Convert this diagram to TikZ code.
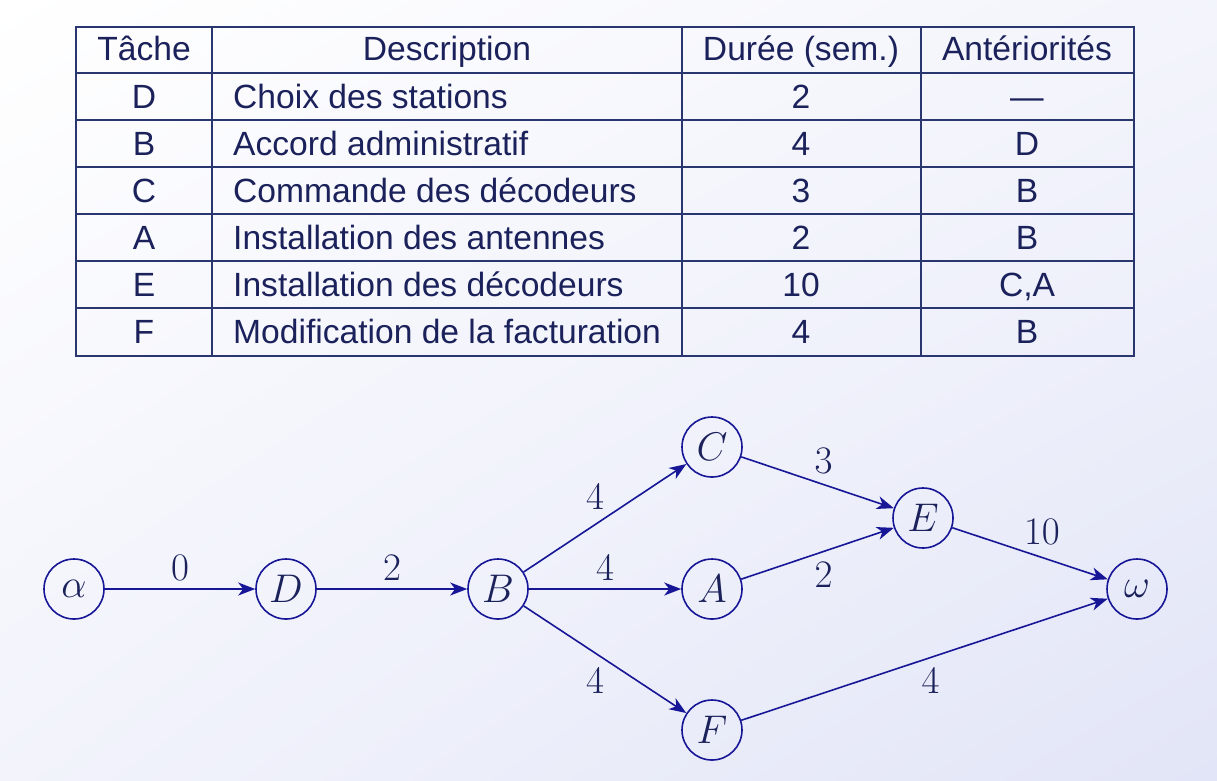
\RequirePackage{fix-cm}
\documentclass[tikz,border=0pt]{standalone}
\usepackage[no-math]{fontspec}
\setmainfont{Liberation Sans}
\usetikzlibrary{arrows.meta,shadings}
\definecolor{marine}{RGB}{27,33,90}
\definecolor{trait}{RGB}{42,54,112}
\definecolor{bleu}{RGB}{22,22,150}
\definecolor{lavande}{RGB}{226,229,247}
\tikzset{
  cellule/.style={text=marine,inner sep=0pt,font=\fontsize{33.6}{40}\selectfont},
  etat/.style={circle,draw=bleu,line width=1.6pt,minimum size=60pt,inner sep=0pt,
    text=marine,font=\fontsize{40}{48}\selectfont},
  fleche/.style={bleu,line width=1.6pt,-{Stealth[length=17pt,width=13pt,inset=5pt]}},
  poids/.style={text=marine,inner sep=8pt,font=\fontsize{39}{46}\selectfont}
}
\begin{document}
\begin{tikzpicture}[x=1pt,y=-1pt]
    \useasboundingbox (0,0) rectangle (1217,780);
    \shade[upper left=white,upper right=white!60!lavande,lower left=white!55!lavande,lower right=lavande]
      (0,0) rectangle (1217,780); %fond
    % tableau
    \draw[trait,line width=1.4pt] (76,27) rectangle (1134,356);
    \foreach \y in {73,120,167,214,261,308} \draw[trait,line width=1.4pt] (76,\y) -- (1134,\y);
    \foreach \x in {682,921} \draw[trait,line width=1.4pt] (\x,27) -- (\x,356);
    \draw[trait,line width=1.4pt] (212,73) -- (212,356);
    \draw[trait,line width=2.6pt] (212,27) -- (212,73);
    \node[cellule,anchor=base] (h1) at (144,60) {Tâche};
    \node[cellule,anchor=base] (h2) at (447,60) {Description};
    \node[cellule,anchor=base] (h3) at (801,60) {Durée (sem.)};
    \node[cellule,anchor=base] (h4) at (1027,60) {Antériorités};
    \foreach \t/\d/\n/\a [count=\i] in {D/Choix des stations/2/---,
        B/Accord administratif/4/D,
        C/Commande des décodeurs/3/B,
        A/Installation des antennes/2/B,
        E/Installation des décodeurs/10/{C,A},
        F/Modification de la facturation/4/B}{
      \node[cellule,anchor=base] (t\i) at (144,61+47*\i) {\t};
      \node[cellule,anchor=base west] (d\i) at (233,61+47*\i) {\d};
      \node[cellule,anchor=base] (n\i) at (801,61+47*\i) {\n};
      \node[cellule,anchor=base] (a\i) at (1027,61+47*\i) {\a};
    }
    % graphe
    \node[etat] (alpha) at (74,589) {$\alpha$};
    \node[etat] (D) at (286,589) {$D$};
    \node[etat] (B) at (498,589) {$B$};
    \node[etat] (C) at (712,447) {$C$};
    \node[etat] (A) at (712,589) {$A$};
    \node[etat] (F) at (712,730) {$F$};
    \node[etat] (E) at (923,518) {$E$};
    \node[etat] (omega) at (1137,589) {$\omega$};
    \draw[fleche] (alpha) -- node[poids,above] {$0$} (D);
    \draw[fleche] (D) -- node[poids,above] {$2$} (B);
    \draw[fleche] (B) -- node[poids,above,xshift=-10pt] {$4$} (C);
    \draw[fleche] (B) -- node[poids,above] {$4$} (A);
    \draw[fleche] (B) -- node[poids,below,xshift=-10pt] {$4$} (F);
    \draw[fleche] (C) -- node[poids,above,xshift=6pt] {$3$} (E);
    \draw[fleche] (A) -- node[poids,below,xshift=6pt] {$2$} (E);
    \draw[fleche] (E) -- node[poids,above,xshift=12pt] {$10$} (omega);
    \draw[fleche] (F) -- node[poids,below,xshift=6pt] {$4$} (omega);
\end{tikzpicture}
\end{document}
